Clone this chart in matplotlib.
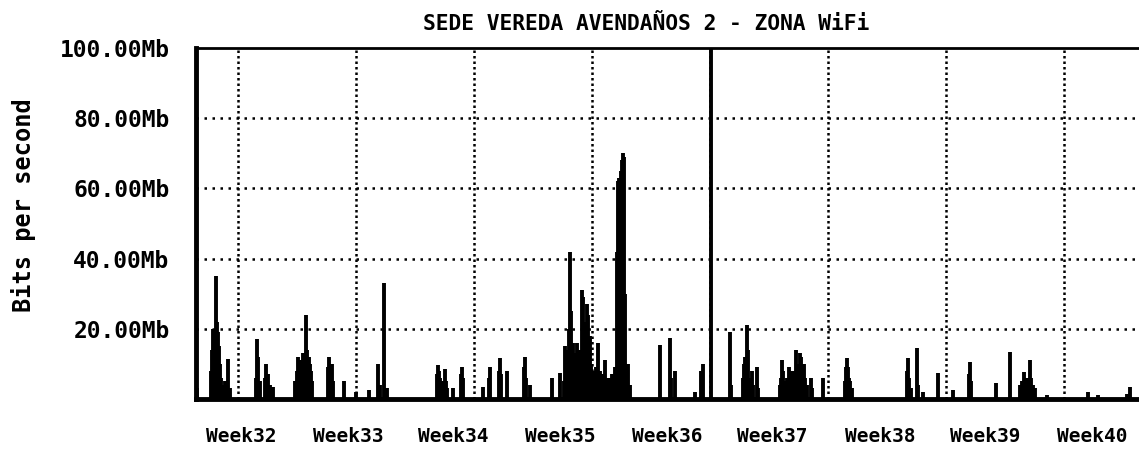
import matplotlib
matplotlib.use("Agg")
import matplotlib.pyplot as plt

# spikes: position in days from the left edge, height in Mb/s
days = [0.05, 0.89, 0.95, 1.01, 1.07, 1.13, 1.19, 1.25, 1.31, 1.37, 1.43, 1.49, 1.6, 1.72, 1.9, 2.0,
        3.56, 3.62, 3.68, 3.8, 4.1, 4.15, 4.25, 4.4, 4.57,
        5.9, 5.99, 6.05, 6.11, 6.17, 6.23, 6.29, 6.35, 6.41, 6.52, 6.58, 6.7, 6.76, 6.82, 6.9,
        7.83, 7.89, 7.95, 8.07, 8.13, 8.78, 9.49, 10.26, 10.79, 10.9, 11.15, 11.3,
        14.3, 14.35, 14.41, 14.47, 14.6, 14.77, 14.83, 14.9, 15.24, 15.72, 15.78, 15.84,
        17.02, 17.38, 17.44, 17.97, 18.03, 18.09, 18.45, 19.45, 19.51, 19.57, 19.81,
        21.12, 21.59, 21.8, 21.9, 21.95, 22.05, 22.12, 22.18, 22.24, 22.3, 22.36, 22.48, 22.6,
        22.7, 22.8, 22.89, 22.95, 23.01, 23.1, 23.19, 23.25, 23.35, 23.45, 23.55, 23.65, 23.75,
        23.84, 23.95, 24.05, 24.15, 24.26, 24.4, 24.55, 24.7, 24.85, 24.97, 25.03, 25.09, 25.15,
        25.21, 25.27, 25.33, 25.39, 25.45, 25.62, 25.75,
        27.52, 28.11, 28.2, 28.41, 29.6, 29.95, 30.07, 30.55,
        31.67, 31.73, 32.45, 32.5, 32.56, 32.62, 32.68, 32.74, 32.8, 32.9, 33.0, 33.06, 33.25, 33.35,
        34.64, 34.7, 34.76, 34.82, 34.9, 35.0, 35.08, 35.15, 35.25, 35.35, 35.45, 35.52, 35.58,
        35.65, 35.75, 35.82, 35.88, 35.95, 36.05, 36.15, 36.25, 36.5, 36.55, 37.19,
        38.5, 38.55, 38.61, 38.67, 38.73, 38.8, 38.9,
        42.15, 42.23, 42.3, 42.4, 42.78, 42.84, 43.1, 44.01, 44.9, 45.85, 45.91, 45.97, 47.45,
        48.28, 48.9, 49.0, 49.11, 49.2, 49.3, 49.4, 49.47, 49.55, 49.65, 49.75,
        50.47, 52.9, 53.5, 55.2, 55.4]
mbps = [3, 8, 14, 20, 18, 20, 35, 22, 19, 15, 10, 6, 4, 5, 11.4, 3,
        6, 17, 12, 5, 6, 10, 7, 4, 3.5,
        5, 8, 12, 10, 9, 11, 9, 13, 10, 24, 14, 12, 10, 8, 5,
        9, 12, 8, 10, 5, 5, 2, 2.5, 10, 4, 33, 3,
        7, 9.6, 8, 6, 5, 8.5, 5, 3, 3, 7, 9, 6,
        3.5, 6, 9, 8, 11.7, 7, 8, 9, 12, 6, 4,
        6, 7.5, 5, 15, 14, 12, 20, 42, 25, 14, 16, 13, 16,
        12, 14, 31, 29, 22, 20, 27, 24, 18, 10, 8, 7, 9,
        16, 8, 6, 7, 11, 6, 6, 7, 9, 42, 62, 63, 62,
        65, 68, 70, 69, 30, 10, 4,
        15.4, 17.4, 6, 8, 2, 8, 10, 100,
        19, 4, 6, 10, 12, 8, 21, 14, 6, 5, 8, 4, 9, 3,
        4, 6, 11, 8, 5, 5, 6, 9, 8, 8, 6, 8, 14,
        10, 9, 13, 12, 10, 10, 6, 4, 6, 3, 6,
        5, 9, 11.7, 9, 6, 5, 3,
        8, 11.7, 6, 3, 14.6, 4, 2, 7.4, 2.5, 7, 10.6, 5, 4.6,
        13.4, 4, 5, 7.7, 6, 5, 6, 11, 6, 4, 3,
        1, 2, 1, 1.5, 3.5]

y_ticks = [20, 40, 60, 80, 100]
y_labels = ["20.00Mb", "40.00Mb", "60.00Mb", "80.00Mb", "100.00Mb"]
week_grid = [2.49, 9.49, 16.49, 23.49, 30.49, 37.49, 44.49, 51.49]
week_pos = [2.70, 9.02, 15.24, 21.59, 27.94, 34.16, 40.57, 46.80, 53.14]
week_labels = ["Week32", "Week33", "Week34", "Week35", "Week36",
               "Week37", "Week38", "Week39", "Week40"]

mono = "DejaVu Sans Mono"

fig = plt.figure(figsize=(11.39, 4.49), dpi=100)
ax = fig.add_axes([196 / 1139, 50 / 449, 1 - 196 / 1139, 351 / 449])

for y in y_ticks[:-1]:
    ax.axhline(y, color="black", linewidth=1.8, linestyle=(0, (1, 2.2)), zorder=1)
for x in week_grid:
    ax.axvline(x, color="black", linewidth=1.8, linestyle=(0, (1, 1.2)), zorder=1)

ax.vlines(days, 0, mbps, color="black", linewidth=2.8, zorder=2)

ax.set_xlim(0, 943 / 16.86)
ax.set_ylim(0, 100)

ax.spines["right"].set_visible(False)
ax.spines["left"].set_linewidth(3.5)
ax.spines["bottom"].set_linewidth(3.5)
ax.spines["top"].set_linewidth(2)

ax.set_yticks(y_ticks)
ax.set_yticklabels(y_labels, fontfamily=mono, fontweight="bold", fontsize=16.5)
ax.set_xticks(week_pos)
ax.set_xticklabels(week_labels, fontfamily=mono, fontweight="bold", fontsize=14)
ax.tick_params(axis="y", length=0, pad=19)
ax.tick_params(axis="x", length=0, pad=20)

fig.text(646 / 1139, 1 - 24 / 449, "SEDE VEREDA AVENDAÑOS 2 - ZONA WiFi",
         fontfamily=mono, fontweight="bold", fontsize=15.3, ha="center", va="center")
fig.text(24 / 1139, 1 - 205 / 449, "Bits per second", rotation=90,
         fontfamily=mono, fontweight="bold", fontsize=17, ha="center", va="center")

fig.savefig("out.png", dpi=100, facecolor="white")
